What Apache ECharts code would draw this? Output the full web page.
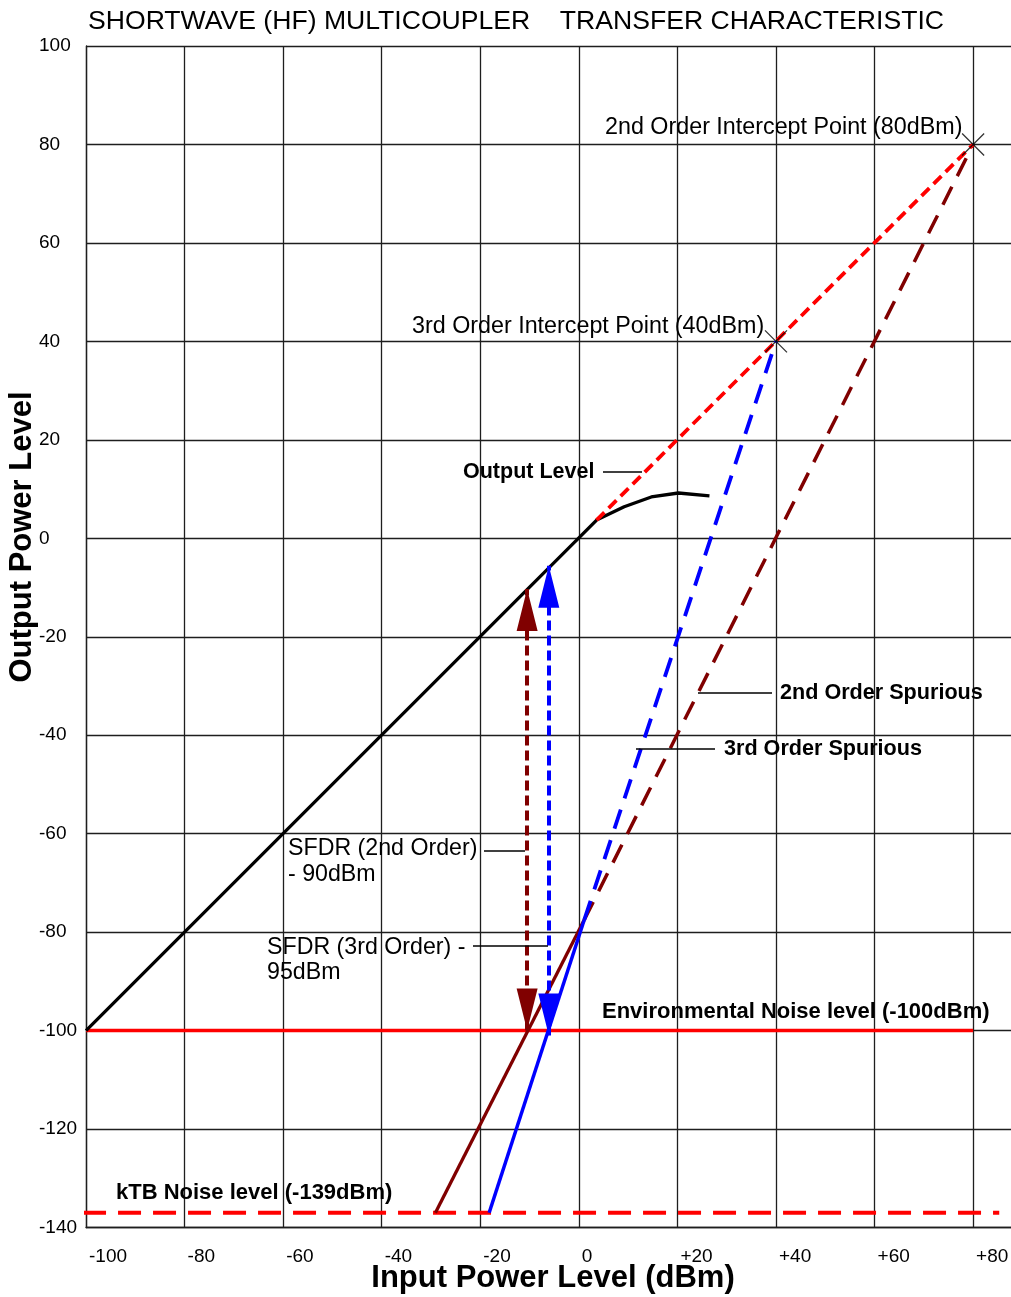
<!DOCTYPE html>
<html>
<head>
<meta charset="utf-8">
<script src="https://cdn.jsdelivr.net/npm/echarts@6/dist/echarts.min.js"></script>
<style>
html,body{margin:0;padding:0;background:#fff;overflow:hidden;}
#chart{width:1011px;height:1297px;}
</style>
</head>
<body>
<div id="chart"></div>
<script>
// ---------- data ----------
const xTickValues = [-100, -80, -60, -40, -20, 0, 20, 40, 60, 80];
const xTickLabels = ['-100', '-80', '-60', '-40', '-20', '0', '+20', '+40', '+60', '+80'];
const yTickValues = [-140, -120, -100, -80, -60, -40, -20, 0, 20, 40, 60, 80, 100];
const yTickLabels = ['-140', '-120', '-100', '-80', '-60', '-40', '-20', '0', '20', '40', '60', '80', '100'];

const outputLevelX = [-100, 3.6, 9.2, 14.7, 20.2, 26.5];
const outputLevelY = [-100, 3.7, 6.4, 8.4, 9.2, 8.6];

const interceptLineX = [3.6, 80];
const interceptLineY = [3.7, 80];

const spur2SolidX = [-29.1, 1.1];
const spur2SolidY = [-137, -77.5];
const spur2DashX = [1.1, 80];
const spur2DashY = [-77.5, 80];

const spur3SolidX = [-18.2, 1.1];
const spur3SolidY = [-137, -77.5];
const spur3DashX = [1.1, 40];
const spur3DashY = [-77.5, 40];

const envNoiseX = [-100, 80];
const envNoiseY = [-100, -100];

const ktbNoiseX = [-100.6, 85.3];
const ktbNoiseY = [-137, -137];

const interceptPointX = [80, 40];
const interceptPointY = [80, 40];

const sfdr2X = -10.5;
const sfdr2Y = [-100, -10.3];
const sfdr3X = -6.1;
const sfdr3Y = [-101, -5.6];

// ---------- chart ----------
const FONT = "'Liberation Sans', Arial, Helvetica, sans-serif";
const zip = (xs, ys) => xs.map((x, i) => [x, ys[i]]);

function lineSeries(name, xs, ys, color, width, type, z) {
  return {
    name, type: 'line', data: zip(xs, ys), symbol: 'none', showSymbol: false,
    clip: false, silent: true, z: z || 3,
    lineStyle: { color, width, type: type || 'solid', cap: 'butt' }
  };
}

function arrowSeries(name, x, ys, color) {
  return {
    name, type: 'line', data: [[x, ys[0]]], symbol: 'none', showSymbol: false,
    lineStyle: { opacity: 0 }, silent: true, z: 5,
    markLine: {
      silent: true, animation: false,
      symbol: ['triangle', 'triangle'],
      symbolSize: [21, 42],
      symbolOffset: [[0, 21], [0, 21]],
      label: { show: false },
      emphasis: { disabled: true },
      lineStyle: { color, width: 4, type: [10, 5] },
      data: [[{ coord: [x, ys[0]] }, { coord: [x, ys[1]] }]]
    }
  };
}

const chart = echarts.init(document.getElementById('chart'), null, { renderer: 'canvas' });

const gridColor = '#1e1e1e';
const labelStyle = { fontSize: 19, color: '#000', fontFamily: FONT };

function txt(text, x, y, size, bold, extra) {
  return {
    type: 'text', x, y, silent: true, z: 100,
    style: Object.assign({
      text, fill: '#000',
      font: (bold ? 'bold ' : '') + size + 'px ' + FONT,
      align: 'left', verticalAlign: 'middle'
    }, extra || {})
  };
}
function leader(x1, y1, x2, y2) {
  return { type: 'line', silent: true, z: 100, shape: { x1, y1, x2, y2 }, style: { stroke: '#000', lineWidth: 1.4 } };
}

const option = {
  animation: false,
  backgroundColor: '#fff',
  grid: { left: 86, top: 46, width: 930, bottom: 69.5, containLabel: false, outerBoundsMode: 'none' },
  xAxis: {
    type: 'value', min: -100, max: 88.7, interval: 20,
    axisLine: { show: true, onZero: false, lineStyle: { color: gridColor, width: 1.3 } },
    axisTick: { show: false },
    splitLine: { show: true, lineStyle: { color: gridColor, width: 1.3 } },
    axisLabel: Object.assign({
      align: 'left', margin: 20, padding: [0, 0, 0, 3], showMaxLabel: false,
      formatter: v => { const i = xTickValues.indexOf(v); return i >= 0 ? xTickLabels[i] : ''; }
    }, labelStyle)
  },
  yAxis: {
    type: 'value', min: -140, max: 100, interval: 20,
    axisLine: { show: true, onZero: false, lineStyle: { color: gridColor, width: 1.3 } },
    axisTick: { show: false },
    splitLine: { show: true, lineStyle: { color: gridColor, width: 1.3 } },
    axisLabel: Object.assign({
      align: 'left', margin: 47,
      formatter: v => { const i = yTickValues.indexOf(v); return i >= 0 ? yTickLabels[i] : ''; }
    }, labelStyle)
  },
  series: [
    lineSeries('Environmental Noise', envNoiseX, envNoiseY, '#ff0000', 3.5, 'solid', 2),
    lineSeries('kTB Noise', ktbNoiseX, ktbNoiseY, '#ff0000', 3.8, [23, 12], 2),
    lineSeries('Output Level', outputLevelX, outputLevelY, '#000000', 3.3, 'solid', 4),
    lineSeries('Intercept line', interceptLineX, interceptLineY, '#ff0000', 3.8, [11, 6], 4),
    lineSeries('2nd Order Spurious', spur2SolidX, spur2SolidY, '#800000', 3.3, 'solid', 3),
    lineSeries('2nd Order Spurious (ext)', spur2DashX, spur2DashY, '#800000', 3.5, [20, 12], 3),
    lineSeries('3rd Order Spurious', spur3SolidX, spur3SolidY, '#0000ff', 3.5, 'solid', 3),
    lineSeries('3rd Order Spurious (ext)', spur3DashX, spur3DashY, '#0000ff', 3.8, [20, 12], 3),
    arrowSeries('SFDR 2nd', sfdr2X, sfdr2Y, '#800000'),
    arrowSeries('SFDR 3rd', sfdr3X, sfdr3Y, '#0000ff'),
    {
      name: 'Intercept points', type: 'scatter', data: zip(interceptPointX, interceptPointY),
      symbol: 'path://M0 0L10 10M10 0L0 10', symbolSize: 22, silent: true, z: 10,
      itemStyle: { color: 'none', borderColor: '#000', borderWidth: 1.3 }
    }
  ],
  graphic: [
    txt('SHORTWAVE (HF) MULTICOUPLER    TRANSFER CHARACTERISTIC', 88, 22, 26.6, false),
    txt('2nd Order Intercept Point (80dBm)', 605, 128, 23.3, false),
    txt('3rd Order Intercept Point (40dBm)', 412, 327, 23.3, false),
    txt('Output Level', 463, 472, 21.5, true),
    leader(603, 472, 642, 472),
    txt('2nd Order Spurious', 780, 693, 21.6, true),
    leader(698, 693, 772, 693),
    txt('3rd Order Spurious', 724, 749, 21.6, true),
    leader(636, 749, 715, 749),
    txt('SFDR (2nd Order)\n- 90dBm', 288, 862, 23.2, false, { lineHeight: 26 }),
    leader(484, 851, 525, 851),
    txt('SFDR (3rd Order) -\n95dBm', 267, 960.5, 23.2, false, { lineHeight: 25 }),
    leader(473, 946, 548, 946),
    txt('Environmental Noise level (-100dBm)', 602, 1012, 22, true),
    txt('kTB Noise level (-139dBm)', 116, 1193, 22, true),
    txt('Input Power Level (dBm)', 553, 1278, 31, true, { align: 'center' }),
    Object.assign(txt('Output Power Level', 22, 537, 31, true, { align: 'center' }), { rotation: Math.PI / 2 })
  ]
};
chart.setOption(option);
</script>
</body>
</html>
